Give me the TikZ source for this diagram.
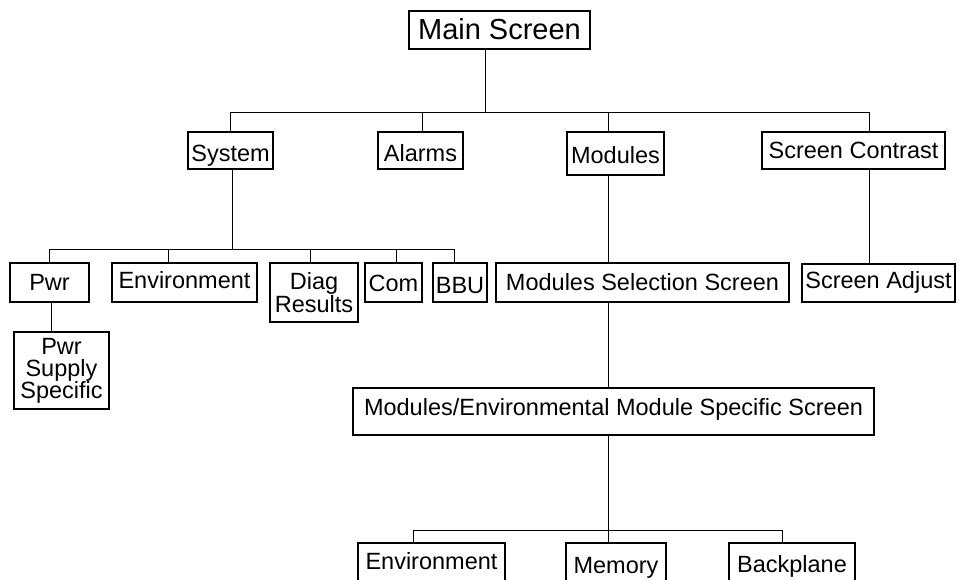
\documentclass[tikz,border=0pt]{standalone}
\usepackage{fontspec}
\setmainfont{Liberation Sans}
\begin{document}
\begin{tikzpicture}[x=1pt,y=-1pt,
  box/.style={draw, line width=1.1pt, inner sep=0pt, align=center,
    font=\fontsize{23.5}{22}\selectfont},
  base/.style={text height=#1, text depth=0pt},
  conn/.style={line width=0.9pt}]
\useasboundingbox (0,0) rectangle (959,579);
\clip (0,0) rectangle (959,579);
\fill[white] (0,0) rectangle (959,579);
% nodes
\node[box, base=18pt, minimum width=181pt, minimum height=38pt, font=\fontsize{29}{30}\selectfont] (main) at (499.5,30) {Main Screen};
\node[box, base=21pt, minimum width=85pt, minimum height=37pt] (system) at (230.5,150.5) {System};
\node[box, base=21pt, minimum width=85pt, minimum height=37pt] (alarms) at (420.5,150.5) {Alarms};
\node[box, base=19pt, minimum width=97pt, minimum height=43pt] (modules) at (615.5,153.5) {Modules};
\node[box, base=15pt, minimum width=183pt, minimum height=37pt] (contrast) at (853.5,150.5) {Screen Contrast};
\node[box, base=15pt, minimum width=79pt, minimum height=39pt] (pwr) at (49.5,282.5) {Pwr};
\node[box, base=11pt, minimum width=145pt, minimum height=39pt] (envA) at (184.5,282.5) {Environment};
\node[box, minimum width=88pt, minimum height=59pt, font=\fontsize{23.5}{23}\selectfont] (diag) at (314,292.5) {Diag\\Results};
\node[box, base=17pt, minimum width=57pt, minimum height=39pt] (com) at (393.5,282.5) {Com};
\node[box, base=21pt, minimum width=54pt, minimum height=39pt] (bbu) at (460,282.5) {BBU};
\node[box, minimum width=95pt, minimum height=77pt, font=\fontsize{23.5}{22}\selectfont] (pss) at (61.5,370.5) {Pwr\\Supply\\Specific};
\node[box, base=15pt, minimum width=293pt, minimum height=39pt] (msel) at (642.5,282.5) {Modules Selection Screen};
\node[box, base=10pt, minimum width=153pt, minimum height=38pt] (sadj) at (878.5,283) {Screen Adjust};
\node[box, base=7pt, minimum width=521pt, minimum height=47pt] (mes) at (613.5,411.5) {Modules/Environmental Module Specific Screen};
\node[box, base=12pt, minimum width=147pt, minimum height=40pt] (envB) at (431.5,563) {Environment};
\node[box, base=20pt, minimum width=100pt, minimum height=40pt] (memory) at (616,563) {Memory};
\node[box, base=18pt, minimum width=126pt, minimum height=40pt] (backplane) at (792,563) {Backplane};
% bus coordinates
\coordinate (b1m) at (485,112);
\coordinate (b1s) at (230,112);
\coordinate (b1a) at (422,112);
\coordinate (b1d) at (608,112);
\coordinate (b1c) at (869,112);
\coordinate (b2m) at (232,249);
\coordinate (b2p) at (49,249);
\coordinate (b2e) at (168,249);
\coordinate (b2d) at (310,249);
\coordinate (b2c) at (396,249);
\coordinate (b2b) at (454,249);
\coordinate (pp) at (51,302);
\coordinate (mx) at (608,300);
\coordinate (b3e) at (413,530);
\coordinate (b3b) at (782,530);
% level 1
\draw[conn] (main.south -| b1m) -- (b1m);
\draw[conn] (b1s) -- (b1c);
\draw[conn] (b1s) -- (b1s |- system.north);
\draw[conn] (b1a) -- (b1a |- alarms.north);
\draw[conn] (b1d) -- (b1d |- modules.north);
\draw[conn] (b1c) -- (b1c |- contrast.north);
% system subtree
\draw[conn] (system.south -| b2m) -- (b2m);
\draw[conn] (b2p) -- (b2b);
\draw[conn] (b2p) -- (b2p |- pwr.north);
\draw[conn] (b2e) -- (b2e |- envA.north);
\draw[conn] (b2d) -- (b2d |- diag.north);
\draw[conn] (b2c) -- (b2c |- com.north);
\draw[conn] (b2b) -- (b2b |- bbu.north);
\draw[conn] (pwr.south -| pp) -- (pss.north -| pp);
% modules subtree
\draw[conn] (modules.south -| mx) -- (msel.north -| mx);
\draw[conn] (msel.south -| mx) -- (mes.north -| mx);
\draw[conn] (mes.south -| mx) -- (memory.north -| mx);
\draw[conn] (b3e) -- (b3b);
\draw[conn] (b3e) -- (b3e |- envB.north);
\draw[conn] (b3b) -- (b3b |- backplane.north);
% contrast subtree
\draw[conn] (contrast.south -| b1c) -- (sadj.north -| b1c);
\end{tikzpicture}
\end{document}
